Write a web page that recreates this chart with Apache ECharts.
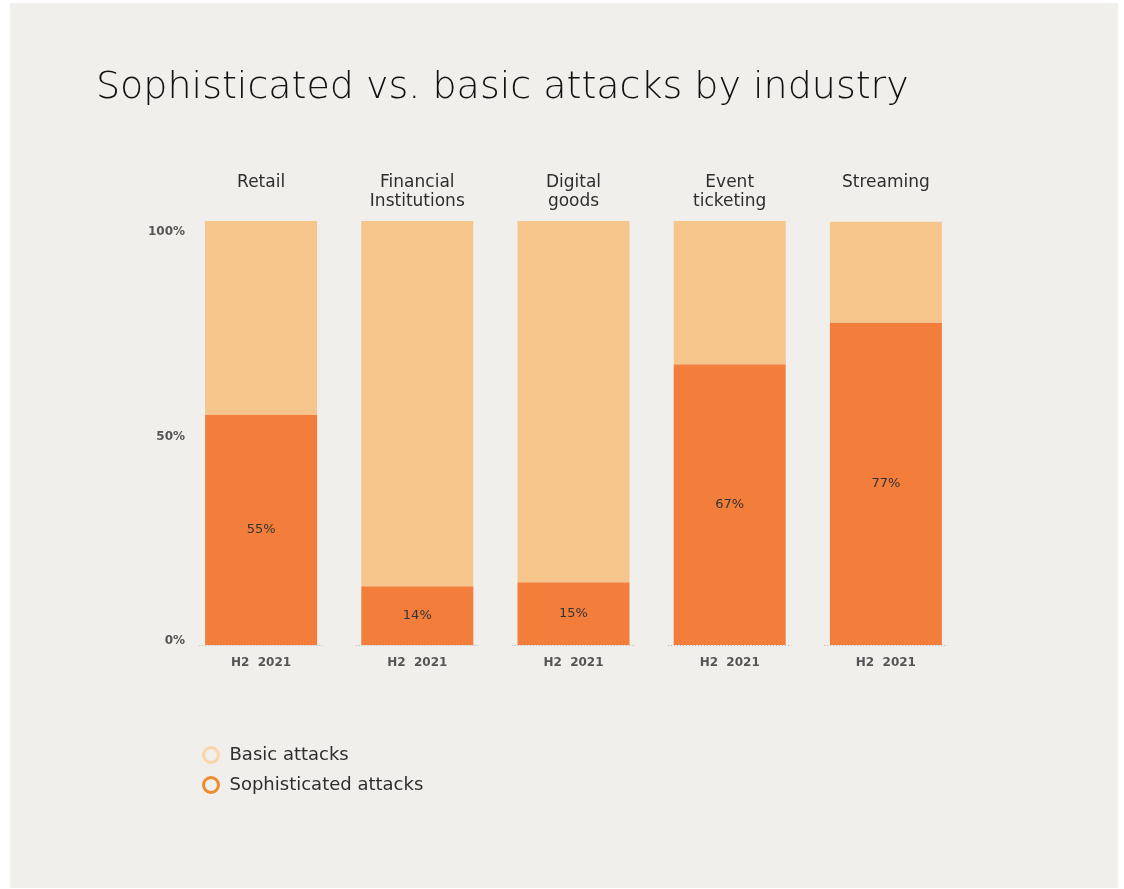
<!DOCTYPE html>
<html>
<head>
<meta charset="utf-8">
<script src="https://cdn.jsdelivr.net/npm/echarts@6/dist/echarts.min.js"></script>
<style>
html,body{margin:0;padding:0;background:#ffffff;}
#panel{position:absolute;left:10px;top:3px;width:1108px;height:885px;background:#f0efec;}
#chart{position:absolute;left:0;top:0;width:1124px;height:889px;}
</style>
</head>
<body>
<div id="panel"></div>
<div id="chart"></div>
<script>
const industries = ['Retail', 'Financial\nInstitutions', 'Digital\ngoods', 'Event\nticketing', 'Streaming'];
const periods = ['H2  2021', 'H2  2021', 'H2  2021', 'H2  2021', 'H2  2021'];
const sophisticated = [55, 14, 15, 67, 77];
const basic = [46.4, 87.2, 86.2, 34.2, 24];
const yTicks = [0, 50, 100];

const chart = echarts.init(document.getElementById('chart'), null, {renderer: 'canvas'});
const FONT = '"DejaVu Sans", "Open Sans", sans-serif';
chart.setOption({
  backgroundColor: 'transparent',
  animation: false,
  textStyle: {fontFamily: FONT},
  title: {
    text: 'Sophisticated vs. basic attacks by industry',
    left: 91, top: 64,
    textStyle: {fontSize: 38, fontWeight: 200, color: '#111', fontFamily: FONT}
  },
  legend: {
    orient: 'vertical',
    left: 197, top: 741,
    itemGap: 12,
    itemWidth: 15, itemHeight: 15,
    textStyle: {fontSize: 18, color: '#2e2e2e', padding: [0, 0, 0, 6]},
    data: [
      {name: 'Basic attacks', icon: 'circle', itemStyle: {color: 'transparent', borderColor: '#f9d6a6', borderWidth: 3}},
      {name: 'Sophisticated attacks', icon: 'circle', itemStyle: {color: 'transparent', borderColor: '#f08a2a', borderWidth: 3}}
    ]
  },
  grid: {left: 183, right: 160, top: 221, bottom: 244},
  xAxis: [
    {
      type: 'category', data: periods, position: 'bottom',
      axisLine: {show: false},
      axisTick: {show: false},
      axisLabel: {color: '#555', fontSize: 12, fontWeight: 'bold', margin: 12}
    },
    {
      type: 'category', data: industries, position: 'top',
      axisLine: {show: false}, axisTick: {show: false},
      axisLabel: {color: '#2e2e2e', fontSize: 17, lineHeight: 19, verticalAlign: 'top', margin: 48}
    }
  ],
  yAxis: [
    {
      type: 'value', min: 0, max: 101.2,
      axisLabel: {show: false}, axisLine: {show: false}, axisTick: {show: false}, splitLine: {show: false}
    },
    {
      type: 'value', min: -1, max: 102.7, position: 'left',
      axisLine: {show: false}, axisTick: {show: false}, splitLine: {show: false},
      axisLabel: {customValues: yTicks, formatter: v => v + '%', color: '#555', fontSize: 12, fontWeight: 'bold', margin: -2}
    }
  ],
  series: [
    {
      name: 'Sophisticated attacks', type: 'bar', stack: 'a', data: sophisticated,
      barWidth: 112,
      itemStyle: {color: '#f37e3c'},
      label: {show: true, position: 'inside', formatter: '{c}%', color: '#333', fontSize: 13}
    },
    {
      name: 'Basic attacks', type: 'bar', stack: 'a', data: basic,
      barWidth: 112,
      itemStyle: {color: '#f6c58b'}
    },
    {
      name: 'baseline', type: 'custom', silent: true, z: 5,
      data: periods.map((p, i) => [i, 0]),
      renderItem: function (params, api) {
        const pt = api.coord([api.value(0), 0]);
        const half = api.size([1, 0])[0] * 0.395;
        return {
          type: 'line',
          shape: {x1: pt[0] - half, y1: pt[1] + 0.5, x2: pt[0] + half, y2: pt[1] + 0.5},
          style: {stroke: '#b5b3af', lineWidth: 1, lineDash: [1, 2]}
        };
      }
    }
  ]
});
</script>
</body>
</html>
